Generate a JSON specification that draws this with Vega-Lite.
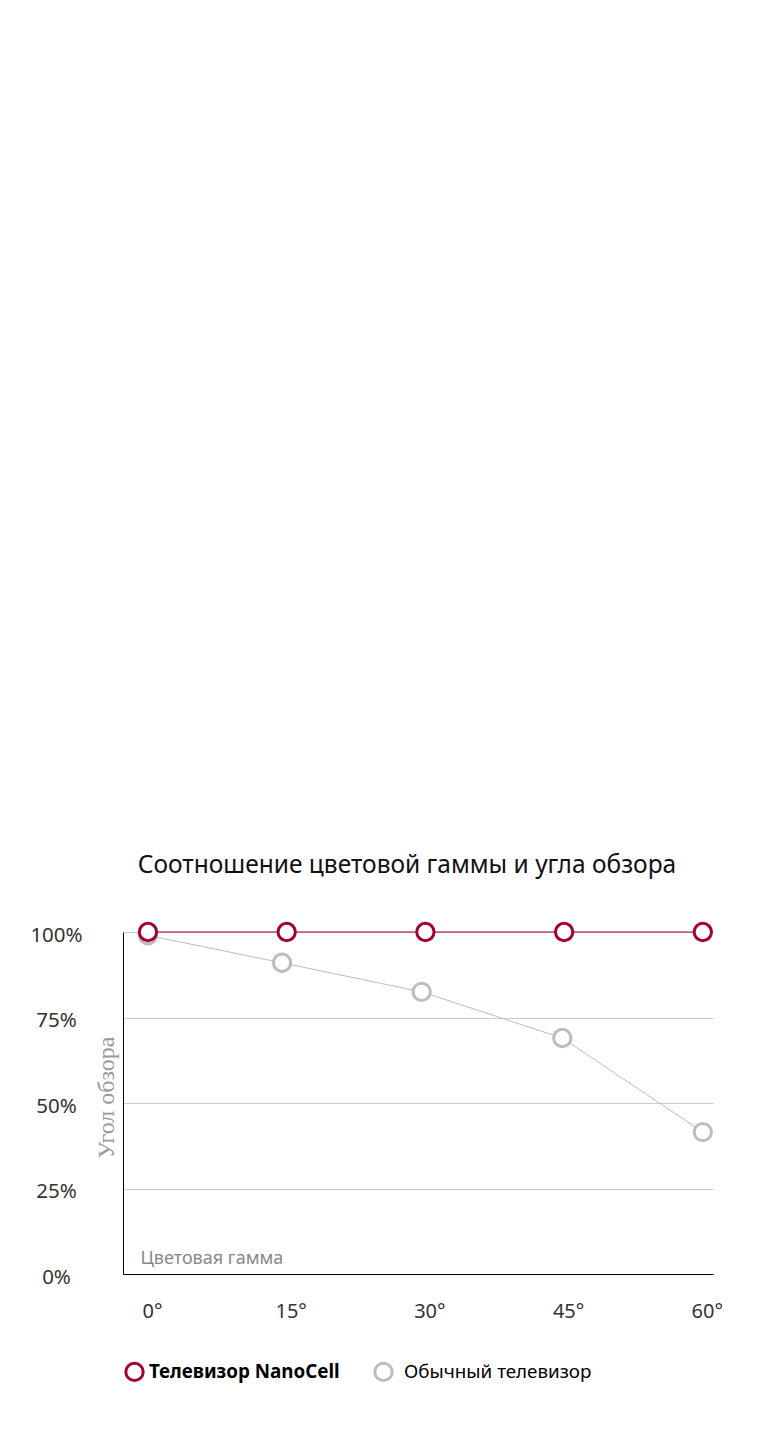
{
  "$schema": "https://vega.github.io/schema/vega-lite/v6.json",
  "width": 590,
  "height": 342,
  "autosize": {"type": "none"},
  "padding": {"left": 123, "top": 932, "right": 55, "bottom": 157},
  "background": "white",
  "title": {
    "text": "Соотношение цветовой гаммы и угла обзора",
    "font": "Noto Sans",
    "fontSize": 24.5,
    "fontWeight": "normal",
    "color": "#111111",
    "anchor": "middle",
    "dx": -11,
    "offset": 39
  },
  "data": {
    "values": [
      {"angle": 0, "gamut": 99, "tv": "Обычный телевизор"},
      {"angle": 14.5, "gamut": 91, "tv": "Обычный телевизор"},
      {"angle": 29.6, "gamut": 82.5, "tv": "Обычный телевизор"},
      {"angle": 44.8, "gamut": 69, "tv": "Обычный телевизор"},
      {"angle": 60, "gamut": 41.5, "tv": "Обычный телевизор"},
      {"angle": 0, "gamut": 100, "tv": "Телевизор NanoCell"},
      {"angle": 15, "gamut": 100, "tv": "Телевизор NanoCell"},
      {"angle": 30, "gamut": 100, "tv": "Телевизор NanoCell"},
      {"angle": 45, "gamut": 100, "tv": "Телевизор NanoCell"},
      {"angle": 60, "gamut": 100, "tv": "Телевизор NanoCell"}
    ]
  },
  "config": {
    "view": {"stroke": null},
    "axis": {"labelFont": "Noto Sans", "titleFont": "Noto Sans"}
  },
  "encoding": {
    "x": {
      "field": "angle",
      "type": "quantitative",
      "scale": {"domain": [-2.7, 61.1], "nice": false, "zero": false},
      "axis": {
        "values": [0, 15, 30, 45, 60],
        "labelExpr": "datum.value + '°'",
        "labelFontSize": 20,
        "labelColor": "#333333",
        "labelPadding": 27,
        "labelOffset": 4,
        "ticks": false,
        "grid": false,
        "domainColor": "#000000",
        "domainWidth": 1,
        "title": "Цветовая гамма",
        "titleFontSize": 18,
        "titleFontWeight": "normal",
        "titleColor": "#888888",
        "titleAlign": "left",
        "titleBaseline": "middle",
        "titleAnchor": null,
        "titleX": 17,
        "titleY": -16
      }
    },
    "y": {
      "field": "gamut",
      "type": "quantitative",
      "scale": {"domain": [0, 100], "nice": false},
      "axis": {
        "values": [0, 25, 50, 75, 100],
        "labelExpr": "datum.value + '%'",
        "labelFontSize": 20.5,
        "labelColor": "#333333",
        "labelAlign": "center",
        "labelPadding": 67,
        "labelOffset": 3,
        "ticks": false,
        "grid": true,
        "gridColor": "#cccccc",
        "gridWidth": 1,
        "domainColor": "#000000",
        "domainWidth": 1,
        "title": "Угол обзора",
        "titleFont": "Liberation Serif",
        "titleFontSize": 24,
        "titleFontWeight": "normal",
        "titleColor": "#999999",
        "titleAngle": -90,
        "titleAlign": "center",
        "titleBaseline": "middle",
        "titleX": -17,
        "titleY": 165
      }
    },
    "color": {
      "field": "tv",
      "type": "nominal",
      "scale": {
        "domain": ["Телевизор NanoCell", "Обычный телевизор"],
        "range": ["#a50034", "#bdbdbd"]
      },
      "legend": {
        "title": null,
        "orient": "none",
        "direction": "horizontal",
        "legendX": 1,
        "legendY": 429,
        "symbolType": "circle",
        "symbolSize": 300,
        "symbolStrokeWidth": 3,
        "symbolFillColor": "white",
        "symbolOpacity": 1,
        "labelFont": "Noto Sans",
        "labelFontSize": 18.8,
        "labelColor": "#000000",
        "labelOffset": 4,
        "columnPadding": 28,
        "labelLimit": 300,
        "encode": {
          "labels": {
            "update": {
              "fontWeight": {"signal": "datum.index === 0 ? 'bold' : 'normal'"},
              "dx": {"signal": "datum.index === 0 ? 0 : 6"}
            }
          }
        }
      }
    }
  },
  "layer": [
    {
      "mark": {"type": "line", "strokeWidth": 1}
    },
    {
      "mark": {"type": "point", "shape": "circle", "filled": false, "fill": "white", "size": 300, "strokeWidth": 3, "opacity": 1}
    }
  ]
}
